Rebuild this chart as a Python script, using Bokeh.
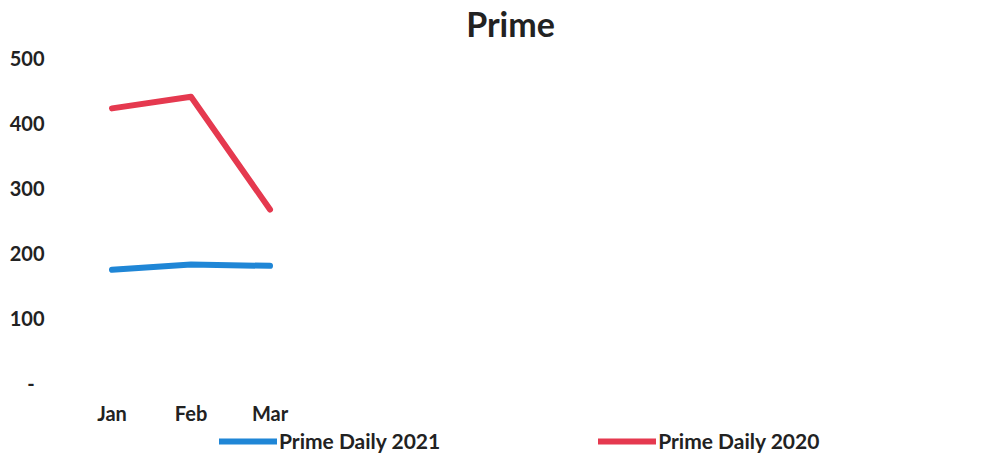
from bokeh.plotting import figure
from bokeh.models import ColumnDataSource, Range1d, FixedTicker, Legend, LegendItem, Label
from bokeh.core.properties import value
from bokeh.embed import file_html
from bokeh.resources import INLINE

# Monthly values (only the first quarter is filled in)
months = ["Jan", "Feb", "Mar"]
prime_daily_2021 = [174, 182, 180]
prime_daily_2020 = [423, 441, 267]
y_ticks = [0, 100, 200, 300, 400, 500]

FONT = "Lato"
TEXT = "#222222"
BLUE = "#1f86d6"
RED = "#e5394f"

x_idx = list(range(len(months)))
src21 = ColumnDataSource(dict(x=x_idx, y=prime_daily_2021))
src20 = ColumnDataSource(dict(x=x_idx, y=prime_daily_2020))
# month names sit in the strip below the zero line
src_months = ColumnDataSource(dict(x=x_idx, y=[-46.3] * len(months), text=months))

# the frame spans the full height so title, category names and legend live inside it
p = figure(width=990, height=455, output_backend="svg", toolbar_location=None,
           x_range=Range1d(-0.5, 11.12), y_range=Range1d(-112.65, 589.5),
           min_border_left=72, min_border_right=0, min_border_top=0,
           min_border_bottom=0)
p.outline_line_color = None
p.background_fill_color = "white"
p.border_fill_color = "white"
p.grid.visible = False
p.xaxis.visible = False

title = Label(x=438, y=432, x_units="screen", y_units="screen", text="Prime",
              text_font=FONT, text_font_size="34px", text_font_style="bold",
              text_color=TEXT, text_align="center", text_baseline="middle")
p.add_layout(title)

r21 = p.line("x", "y", source=src21, line_color=BLUE, line_width=6, line_cap="round", line_join="round")
r20 = p.line("x", "y", source=src20, line_color=RED, line_width=6, line_cap="round", line_join="round")

p.text("x", "y", text="text", source=src_months, text_font=value(FONT),
       text_font_size="20px", text_font_style="bold", text_color=TEXT,
       text_align="center", text_baseline="middle")

# y axis: accounting-style zero shown as a dash
p.yaxis.ticker = FixedTicker(ticks=y_ticks)
p.yaxis.major_label_overrides = {0: "-\u00a0\u00a0"}
p.yaxis.axis_line_color = None
p.yaxis.major_tick_line_color = None
p.yaxis.minor_tick_line_color = None
p.yaxis.major_label_standoff = 22
p.yaxis.major_label_text_font = FONT
p.yaxis.major_label_text_font_size = "20px"
p.yaxis.major_label_text_font_style = "bold"
p.yaxis.major_label_text_color = TEXT

legend = Legend(items=[LegendItem(label="Prime Daily 2021", renderers=[r21]),
                       LegendItem(label="Prime Daily 2020", renderers=[r20])],
                orientation="horizontal", location=(147, 2),
                glyph_width=58, glyph_height=20, label_height=20,
                label_standoff=2, spacing=158, padding=0, margin=0,
                border_line_color=None, background_fill_alpha=0,
                label_text_font=FONT, label_text_font_size="21px",
                label_text_font_style="bold", label_text_color=TEXT)
p.add_layout(legend, "center")

open("out.html", "w").write(file_html(p, INLINE))
